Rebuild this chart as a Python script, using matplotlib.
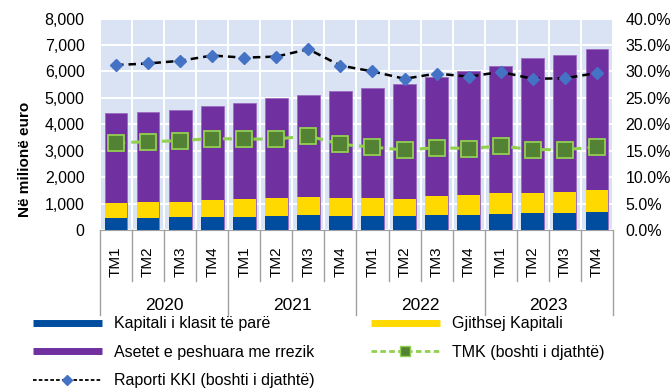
import matplotlib.pyplot as plt
import matplotlib.transforms as mtransforms
from matplotlib.lines import Line2D
import numpy as np

plt.rcParams['font.family'] = ['Liberation Sans', 'DejaVu Sans']

# quarterly data, 2020-2023
quarters = ['TM1', 'TM2', 'TM3', 'TM4'] * 4
years = ['2020', '2021', '2022', '2023']

# millions of euro
rwa = [4410, 4480, 4530, 4680, 4790, 4990, 5110, 5240,
       5380, 5540, 5770, 6000, 6210, 6490, 6620, 6830]
total_capital = [1010, 1050, 1070, 1120, 1160, 1200, 1260, 1210,
                 1200, 1170, 1280, 1310, 1390, 1410, 1450, 1530]
tier1_capital = [455, 455, 480, 490, 505, 545, 570, 545,
                 545, 530, 570, 580, 620, 645, 645, 680]

# ratios, percent (right axis)
tmk = [16.5, 16.7, 16.9, 17.3, 17.2, 17.2, 17.8, 16.2,
       15.7, 15.1, 15.6, 15.4, 15.9, 15.2, 15.2, 15.7]
kki = [31.2, 31.5, 32.0, 33.0, 32.6, 32.8, 34.2, 31.1,
       30.0, 28.6, 29.6, 29.0, 29.9, 28.6, 28.7, 29.7]

c_blue = '#004da0'
c_yellow = '#ffd900'
c_purple = '#7030a0'
c_green_line = '#92d050'
c_green_face = '#548235'
c_diamond = '#4472c4'
c_bg = '#dae3f3'
c_box = '#a0a0a0'

fig = plt.figure(figsize=(6.71, 3.89), dpi=100)
ax = fig.add_axes([0.149, 0.4087, 0.7645, 0.5437])
ax2 = ax.twinx()

x = np.arange(len(quarters))
w = 0.71
ax.bar(x, rwa, w, color=c_purple, edgecolor='#9b6cc0', linewidth=0.6, zorder=3)
ax.bar(x, total_capital, w, color=c_yellow, zorder=4)
ax.bar(x, tier1_capital, w, color=c_blue, zorder=5)

ax.set_facecolor(c_bg)
ax.set_xlim(-0.5, len(quarters) - 0.5)
ax.set_ylim(0, 8000)
ax.set_yticks(np.arange(0, 8001, 1000))
ax.set_yticklabels([f'{v:,}' for v in range(0, 8001, 1000)])
ax.set_xticks(x)
ax.set_xticklabels(quarters, rotation=90)
ax.set_xticks(np.arange(-0.5, len(quarters), 1), minor=True)
ax.grid(True, which='major', axis='y', color='white', linewidth=1.4, zorder=1)
ax.grid(True, which='minor', axis='x', color='white', linewidth=1.4, zorder=1)
ax.set_axisbelow(True)
ax.tick_params(axis='y', length=0, pad=11, labelsize=11.5)
ax.tick_params(axis='x', which='both', length=0, pad=12, labelsize=11)
for s in ['left', 'right', 'top']:
    ax.spines[s].set_visible(False)
ax.spines['bottom'].set_color(c_box)

ax2.plot(x, tmk, color=c_green_line, linestyle=(0, (3, 2)), linewidth=2.2,
         marker='s', markersize=11, markerfacecolor=c_green_face,
         markeredgecolor=c_green_line, markeredgewidth=1.3, zorder=6)
ax2.plot(x, kki, color='black', linestyle=(0, (3, 2)), linewidth=1.8,
         marker='D', markersize=6.5, markerfacecolor=c_diamond,
         markeredgecolor=c_diamond, zorder=6)
ax2.set_ylim(0, 40)
ax2.set_yticks(np.arange(0, 40.1, 5))
ax2.set_yticklabels([f'{v:.1f}%' for v in np.arange(0, 40.1, 5)])
ax2.tick_params(axis='y', length=0, pad=9, labelsize=11.5)
for s in ax2.spines.values():
    s.set_visible(False)

# category boxes below the axis
trans = mtransforms.blended_transform_factory(ax.transData, ax.transAxes)
for i in range(len(quarters) + 1):
    depth = -0.40 if i % 4 == 0 else -0.24
    ax.plot([i - 0.5, i - 0.5], [0, depth], transform=trans, color=c_box,
            linewidth=1.0, clip_on=False)
for k, yr in enumerate(years):
    ax.text(4 * k + 1.5, -0.355, yr, transform=trans, ha='center', va='center',
            fontsize=12.5)

fig.text(0.038, 0.59, 'Në milionë euro', rotation=90, ha='center', va='center',
         fontsize=11, fontweight='bold')

# legend
h_blue = Line2D([], [], color=c_blue, linewidth=5, solid_capstyle='butt')
h_purple = Line2D([], [], color=c_purple, linewidth=5, solid_capstyle='butt')
h_yellow = Line2D([], [], color=c_yellow, linewidth=5, solid_capstyle='butt')
h_kki = Line2D([], [], color='black', linestyle=(0, (2, 1.2)), linewidth=1.3,
               marker='D', markersize=5, markerfacecolor=c_diamond,
               markeredgecolor=c_diamond)
h_tmk = Line2D([], [], color=c_green_line, linestyle=(0, (2, 1.2)), linewidth=2,
               marker='s', markersize=7, markerfacecolor=c_green_face,
               markeredgecolor=c_green_line)
leg_kw = dict(frameon=False, fontsize=11.5, handlelength=4.3, handletextpad=0.75,
              labelspacing=0.85, borderaxespad=0, borderpad=0, loc='upper left')
fig.legend([h_blue, h_purple, h_kki],
           ['Kapitali i klasit të parë', 'Asetet e peshuara me rrezik',
            'Raporti KKI (boshti i djathtë)'],
           bbox_to_anchor=(0.049, 0.187), **leg_kw)
fig.legend([h_yellow, h_tmk],
           ['Gjithsej Kapitali', 'TMK (boshti i djathtë)'],
           bbox_to_anchor=(0.553, 0.187), **leg_kw)

fig.savefig('out.png', dpi=100)
